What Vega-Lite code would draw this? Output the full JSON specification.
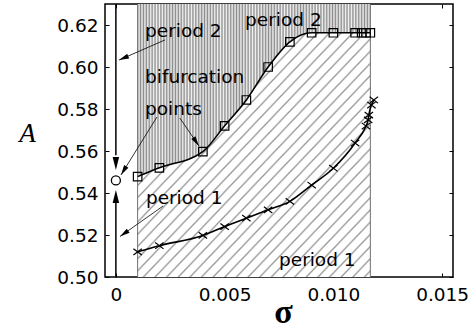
{
"$schema": "https://vega.github.io/schema/vega-lite/v6.json",
"width": 348, "height": 273,
"autosize": {"type": "none"},
"padding": {"left": 105, "top": 4, "right": 23, "bottom": 51},
"background": "white",
"config": {
 "view": {"stroke": "black", "strokeWidth": 1.5},
 "axis": {"domain": false, "grid": false, "ticks": true, "tickColor": "black", "tickSize": -4, "tickWidth": 1, "labelFont": "DejaVu Sans", "labelFontSize": 18.5, "labelColor": "black", "labelPadding": 11}
},
"datasets": {
 "sq": [
  {"s": 0.001, "A": 0.5478}, {"s": 0.002, "A": 0.552}, {"s": 0.004, "A": 0.5597}, {"s": 0.005, "A": 0.572},
  {"s": 0.006, "A": 0.5843}, {"s": 0.007, "A": 0.600}, {"s": 0.008, "A": 0.612}, {"s": 0.009, "A": 0.6163},
  {"s": 0.010, "A": 0.6163}, {"s": 0.011, "A": 0.6163}, {"s": 0.0113, "A": 0.6163}, {"s": 0.0115, "A": 0.6163}, {"s": 0.0117, "A": 0.6163}
 ],
 "cr": [
  {"s": 0.001, "A": 0.512}, {"s": 0.002, "A": 0.5149}, {"s": 0.004, "A": 0.5198}, {"s": 0.005, "A": 0.524},
  {"s": 0.006, "A": 0.528}, {"s": 0.007, "A": 0.532}, {"s": 0.008, "A": 0.536}, {"s": 0.009, "A": 0.5438},
  {"s": 0.010, "A": 0.5518}, {"s": 0.011, "A": 0.5638}, {"s": 0.0115, "A": 0.5719}, {"s": 0.0116, "A": 0.5748},
  {"s": 0.01163, "A": 0.5771}, {"s": 0.01175, "A": 0.5819}, {"s": 0.01186, "A": 0.5843}
 ],
 "edges": [{"s": 0.001}, {"s": 0.0117}],
 "vert": [{"s": 0, "A": 0.63, "A2": 0.558}, {"s": 0, "A": 0.5, "A2": 0.536}],
 "vhead": [{"s": 0, "A": 0.551, "dir": "down"}, {"s": 0, "A": 0.5414, "dir": "up"}],
 "circ": [{"s": 0, "A": 0.546}],
 "arrows": [
  {"id": "a1", "s": 0.00226, "A": 0.6129, "s2": 0.000144, "A2": 0.6033},
  {"id": "a2", "s": 0.00189, "A": 0.5762, "s2": 0.000235, "A2": 0.5486},
  {"id": "a3", "s": 0.00294, "A": 0.5757, "s2": 0.00382, "A2": 0.5624},
  {"id": "a4", "s": 0.00217, "A": 0.5338, "s2": 0.00019, "A2": 0.5193}
 ],
 "labels": [
  {"t": "period 2", "s": 0.00134, "A": 0.6143},
  {"t": "bifurcation", "s": 0.00134, "A": 0.5924},
  {"t": "points", "s": 0.00134, "A": 0.5771},
  {"t": "period 1", "s": 0.00138, "A": 0.5348},
  {"t": "period 2", "s": 0.00594, "A": 0.6195},
  {"t": "period 1", "s": 0.0075, "A": 0.5052}
 ]
},
"layer": [
 {
  "data": {"name": "sq"},
  "mark": {"type": "area", "interpolate": "monotone", "fill": {"gradient": "linear", "x1": 0, "y1": 0, "x2": 1, "y2": 1, "stops": [
   {"offset":0,"color":"#fff"},
   {"offset":0.0085,"color":"#fff"},{"offset":0.0125,"color":"#999"},{"offset":0.0165,"color":"#fff"},
   {"offset":0.0335,"color":"#fff"},{"offset":0.0375,"color":"#999"},{"offset":0.0415,"color":"#fff"},
   {"offset":0.0585,"color":"#fff"},{"offset":0.0625,"color":"#999"},{"offset":0.0665,"color":"#fff"},
   {"offset":0.0835,"color":"#fff"},{"offset":0.0875,"color":"#999"},{"offset":0.0915,"color":"#fff"},
   {"offset":0.1085,"color":"#fff"},{"offset":0.1125,"color":"#999"},{"offset":0.1165,"color":"#fff"},
   {"offset":0.1335,"color":"#fff"},{"offset":0.1375,"color":"#999"},{"offset":0.1415,"color":"#fff"},
   {"offset":0.1585,"color":"#fff"},{"offset":0.1625,"color":"#999"},{"offset":0.1665,"color":"#fff"},
   {"offset":0.1835,"color":"#fff"},{"offset":0.1875,"color":"#999"},{"offset":0.1915,"color":"#fff"},
   {"offset":0.2085,"color":"#fff"},{"offset":0.2125,"color":"#999"},{"offset":0.2165,"color":"#fff"},
   {"offset":0.2335,"color":"#fff"},{"offset":0.2375,"color":"#999"},{"offset":0.2415,"color":"#fff"},
   {"offset":0.2585,"color":"#fff"},{"offset":0.2625,"color":"#999"},{"offset":0.2665,"color":"#fff"},
   {"offset":0.2835,"color":"#fff"},{"offset":0.2875,"color":"#999"},{"offset":0.2915,"color":"#fff"},
   {"offset":0.3085,"color":"#fff"},{"offset":0.3125,"color":"#999"},{"offset":0.3165,"color":"#fff"},
   {"offset":0.3335,"color":"#fff"},{"offset":0.3375,"color":"#999"},{"offset":0.3415,"color":"#fff"},
   {"offset":0.3585,"color":"#fff"},{"offset":0.3625,"color":"#999"},{"offset":0.3665,"color":"#fff"},
   {"offset":0.3835,"color":"#fff"},{"offset":0.3875,"color":"#999"},{"offset":0.3915,"color":"#fff"},
   {"offset":0.4085,"color":"#fff"},{"offset":0.4125,"color":"#999"},{"offset":0.4165,"color":"#fff"},
   {"offset":0.4335,"color":"#fff"},{"offset":0.4375,"color":"#999"},{"offset":0.4415,"color":"#fff"},
   {"offset":0.4585,"color":"#fff"},{"offset":0.4625,"color":"#999"},{"offset":0.4665,"color":"#fff"},
   {"offset":0.4835,"color":"#fff"},{"offset":0.4875,"color":"#999"},{"offset":0.4915,"color":"#fff"},
   {"offset":0.5085,"color":"#fff"},{"offset":0.5125,"color":"#999"},{"offset":0.5165,"color":"#fff"},
   {"offset":0.5335,"color":"#fff"},{"offset":0.5375,"color":"#999"},{"offset":0.5415,"color":"#fff"},
   {"offset":0.5585,"color":"#fff"},{"offset":0.5625,"color":"#999"},{"offset":0.5665,"color":"#fff"},
   {"offset":0.5835,"color":"#fff"},{"offset":0.5875,"color":"#999"},{"offset":0.5915,"color":"#fff"},
   {"offset":0.6085,"color":"#fff"},{"offset":0.6125,"color":"#999"},{"offset":0.6165,"color":"#fff"},
   {"offset":0.6335,"color":"#fff"},{"offset":0.6375,"color":"#999"},{"offset":0.6415,"color":"#fff"},
   {"offset":0.6585,"color":"#fff"},{"offset":0.6625,"color":"#999"},{"offset":0.6665,"color":"#fff"},
   {"offset":0.6835,"color":"#fff"},{"offset":0.6875,"color":"#999"},{"offset":0.6915,"color":"#fff"},
   {"offset":0.7085,"color":"#fff"},{"offset":0.7125,"color":"#999"},{"offset":0.7165,"color":"#fff"},
   {"offset":0.7335,"color":"#fff"},{"offset":0.7375,"color":"#999"},{"offset":0.7415,"color":"#fff"},
   {"offset":0.7585,"color":"#fff"},{"offset":0.7625,"color":"#999"},{"offset":0.7665,"color":"#fff"},
   {"offset":0.7835,"color":"#fff"},{"offset":0.7875,"color":"#999"},{"offset":0.7915,"color":"#fff"},
   {"offset":0.8085,"color":"#fff"},{"offset":0.8125,"color":"#999"},{"offset":0.8165,"color":"#fff"},
   {"offset":0.8335,"color":"#fff"},{"offset":0.8375,"color":"#999"},{"offset":0.8415,"color":"#fff"},
   {"offset":0.8585,"color":"#fff"},{"offset":0.8625,"color":"#999"},{"offset":0.8665,"color":"#fff"},
   {"offset":0.8835,"color":"#fff"},{"offset":0.8875,"color":"#999"},{"offset":0.8915,"color":"#fff"},
   {"offset":0.9085,"color":"#fff"},{"offset":0.9125,"color":"#999"},{"offset":0.9165,"color":"#fff"},
   {"offset":0.9335,"color":"#fff"},{"offset":0.9375,"color":"#999"},{"offset":0.9415,"color":"#fff"},
   {"offset":0.9585,"color":"#fff"},{"offset":0.9625,"color":"#999"},{"offset":0.9665,"color":"#fff"},
   {"offset":0.9835,"color":"#fff"},{"offset":0.9875,"color":"#999"},{"offset":0.9915,"color":"#fff"},
   {"offset":1,"color":"#fff"}
  ]}},
  "encoding": {
   "x": {"field": "s", "type": "quantitative", "scale": {"domain": [-0.0005, 0.0155], "nice": false, "zero": false},
    "axis": {"orient": "bottom", "values": [0, 0.005, 0.01, 0.015], "labelExpr": "datum.value == 0 ? '0' : format(datum.value, '.3f')", "labelPadding": 12,
     "title": "σ", "titleFont": "Liberation Serif", "titleFontSize": 34, "titleFontWeight": "bold", "titleColor": "black", "titleX": 178, "titleY": 45, "titleAlign": "center", "titleBaseline": "alphabetic"}},
   "y": {"field": "A", "type": "quantitative", "scale": {"domain": [0.5, 0.63], "nice": false, "zero": false},
    "axis": {"orient": "left", "values": [0.5, 0.52, 0.54, 0.56, 0.58, 0.6, 0.62], "format": ".2f",
     "title": "A", "titleFont": "Liberation Serif", "titleFontStyle": "italic", "titleFontWeight": "normal", "titleFontSize": 27, "titleColor": "black", "titleAngle": 0, "titleX": -78, "titleY": 129, "titleAlign": "center", "titleBaseline": "middle"}},
   "y2": {"datum": 0.5}
  }
 },
 {
  "data": {"name": "sq"},
  "mark": {"type": "area", "interpolate": "monotone", "fill": {"gradient": "linear", "x1": 0, "y1": 0, "x2": 1, "y2": 0, "stops": [
   {"offset":0,"color":"#8c8c8c"},{"offset":0.00625,"color":"#f4f4f4"},{"offset":0.0125,"color":"#8c8c8c"},{"offset":0.01875,"color":"#f4f4f4"},
   {"offset":0.025,"color":"#8c8c8c"},{"offset":0.03125,"color":"#f4f4f4"},{"offset":0.0375,"color":"#8c8c8c"},{"offset":0.04375,"color":"#f4f4f4"},
   {"offset":0.05,"color":"#8c8c8c"},{"offset":0.05625,"color":"#f4f4f4"},{"offset":0.0625,"color":"#8c8c8c"},{"offset":0.06875,"color":"#f4f4f4"},
   {"offset":0.075,"color":"#8c8c8c"},{"offset":0.08125,"color":"#f4f4f4"},{"offset":0.0875,"color":"#8c8c8c"},{"offset":0.09375,"color":"#f4f4f4"},
   {"offset":0.1,"color":"#8c8c8c"},{"offset":0.10625,"color":"#f4f4f4"},{"offset":0.1125,"color":"#8c8c8c"},{"offset":0.11875,"color":"#f4f4f4"},
   {"offset":0.125,"color":"#8c8c8c"},{"offset":0.13125,"color":"#f4f4f4"},{"offset":0.1375,"color":"#8c8c8c"},{"offset":0.14375,"color":"#f4f4f4"},
   {"offset":0.15,"color":"#8c8c8c"},{"offset":0.15625,"color":"#f4f4f4"},{"offset":0.1625,"color":"#8c8c8c"},{"offset":0.16875,"color":"#f4f4f4"},
   {"offset":0.175,"color":"#8c8c8c"},{"offset":0.18125,"color":"#f4f4f4"},{"offset":0.1875,"color":"#8c8c8c"},{"offset":0.19375,"color":"#f4f4f4"},
   {"offset":0.2,"color":"#8c8c8c"},{"offset":0.20625,"color":"#f4f4f4"},{"offset":0.2125,"color":"#8c8c8c"},{"offset":0.21875,"color":"#f4f4f4"},
   {"offset":0.225,"color":"#8c8c8c"},{"offset":0.23125,"color":"#f4f4f4"},{"offset":0.2375,"color":"#8c8c8c"},{"offset":0.24375,"color":"#f4f4f4"},
   {"offset":0.25,"color":"#8c8c8c"},{"offset":0.25625,"color":"#f4f4f4"},{"offset":0.2625,"color":"#8c8c8c"},{"offset":0.26875,"color":"#f4f4f4"},
   {"offset":0.275,"color":"#8c8c8c"},{"offset":0.28125,"color":"#f4f4f4"},{"offset":0.2875,"color":"#8c8c8c"},{"offset":0.29375,"color":"#f4f4f4"},
   {"offset":0.3,"color":"#8c8c8c"},{"offset":0.30625,"color":"#f4f4f4"},{"offset":0.3125,"color":"#8c8c8c"},{"offset":0.31875,"color":"#f4f4f4"},
   {"offset":0.325,"color":"#8c8c8c"},{"offset":0.33125,"color":"#f4f4f4"},{"offset":0.3375,"color":"#8c8c8c"},{"offset":0.34375,"color":"#f4f4f4"},
   {"offset":0.35,"color":"#8c8c8c"},{"offset":0.35625,"color":"#f4f4f4"},{"offset":0.3625,"color":"#8c8c8c"},{"offset":0.36875,"color":"#f4f4f4"},
   {"offset":0.375,"color":"#8c8c8c"},{"offset":0.38125,"color":"#f4f4f4"},{"offset":0.3875,"color":"#8c8c8c"},{"offset":0.39375,"color":"#f4f4f4"},
   {"offset":0.4,"color":"#8c8c8c"},{"offset":0.40625,"color":"#f4f4f4"},{"offset":0.4125,"color":"#8c8c8c"},{"offset":0.41875,"color":"#f4f4f4"},
   {"offset":0.425,"color":"#8c8c8c"},{"offset":0.43125,"color":"#f4f4f4"},{"offset":0.4375,"color":"#8c8c8c"},{"offset":0.44375,"color":"#f4f4f4"},
   {"offset":0.45,"color":"#8c8c8c"},{"offset":0.45625,"color":"#f4f4f4"},{"offset":0.4625,"color":"#8c8c8c"},{"offset":0.46875,"color":"#f4f4f4"},
   {"offset":0.475,"color":"#8c8c8c"},{"offset":0.48125,"color":"#f4f4f4"},{"offset":0.4875,"color":"#8c8c8c"},{"offset":0.49375,"color":"#f4f4f4"},
   {"offset":0.5,"color":"#8c8c8c"},{"offset":0.50625,"color":"#f4f4f4"},{"offset":0.5125,"color":"#8c8c8c"},{"offset":0.51875,"color":"#f4f4f4"},
   {"offset":0.525,"color":"#8c8c8c"},{"offset":0.53125,"color":"#f4f4f4"},{"offset":0.5375,"color":"#8c8c8c"},{"offset":0.54375,"color":"#f4f4f4"},
   {"offset":0.55,"color":"#8c8c8c"},{"offset":0.55625,"color":"#f4f4f4"},{"offset":0.5625,"color":"#8c8c8c"},{"offset":0.56875,"color":"#f4f4f4"},
   {"offset":0.575,"color":"#8c8c8c"},{"offset":0.58125,"color":"#f4f4f4"},{"offset":0.5875,"color":"#8c8c8c"},{"offset":0.59375,"color":"#f4f4f4"},
   {"offset":0.6,"color":"#8c8c8c"},{"offset":0.60625,"color":"#f4f4f4"},{"offset":0.6125,"color":"#8c8c8c"},{"offset":0.61875,"color":"#f4f4f4"},
   {"offset":0.625,"color":"#8c8c8c"},{"offset":0.63125,"color":"#f4f4f4"},{"offset":0.6375,"color":"#8c8c8c"},{"offset":0.64375,"color":"#f4f4f4"},
   {"offset":0.65,"color":"#8c8c8c"},{"offset":0.65625,"color":"#f4f4f4"},{"offset":0.6625,"color":"#8c8c8c"},{"offset":0.66875,"color":"#f4f4f4"},
   {"offset":0.675,"color":"#8c8c8c"},{"offset":0.68125,"color":"#f4f4f4"},{"offset":0.6875,"color":"#8c8c8c"},{"offset":0.69375,"color":"#f4f4f4"},
   {"offset":0.7,"color":"#8c8c8c"},{"offset":0.70625,"color":"#f4f4f4"},{"offset":0.7125,"color":"#8c8c8c"},{"offset":0.71875,"color":"#f4f4f4"},
   {"offset":0.725,"color":"#8c8c8c"},{"offset":0.73125,"color":"#f4f4f4"},{"offset":0.7375,"color":"#8c8c8c"},{"offset":0.74375,"color":"#f4f4f4"},
   {"offset":0.75,"color":"#8c8c8c"},{"offset":0.75625,"color":"#f4f4f4"},{"offset":0.7625,"color":"#8c8c8c"},{"offset":0.76875,"color":"#f4f4f4"},
   {"offset":0.775,"color":"#8c8c8c"},{"offset":0.78125,"color":"#f4f4f4"},{"offset":0.7875,"color":"#8c8c8c"},{"offset":0.79375,"color":"#f4f4f4"},
   {"offset":0.8,"color":"#8c8c8c"},{"offset":0.80625,"color":"#f4f4f4"},{"offset":0.8125,"color":"#8c8c8c"},{"offset":0.81875,"color":"#f4f4f4"},
   {"offset":0.825,"color":"#8c8c8c"},{"offset":0.83125,"color":"#f4f4f4"},{"offset":0.8375,"color":"#8c8c8c"},{"offset":0.84375,"color":"#f4f4f4"},
   {"offset":0.85,"color":"#8c8c8c"},{"offset":0.85625,"color":"#f4f4f4"},{"offset":0.8625,"color":"#8c8c8c"},{"offset":0.86875,"color":"#f4f4f4"},
   {"offset":0.875,"color":"#8c8c8c"},{"offset":0.88125,"color":"#f4f4f4"},{"offset":0.8875,"color":"#8c8c8c"},{"offset":0.89375,"color":"#f4f4f4"},
   {"offset":0.9,"color":"#8c8c8c"},{"offset":0.90625,"color":"#f4f4f4"},{"offset":0.9125,"color":"#8c8c8c"},{"offset":0.91875,"color":"#f4f4f4"},
   {"offset":0.925,"color":"#8c8c8c"},{"offset":0.93125,"color":"#f4f4f4"},{"offset":0.9375,"color":"#8c8c8c"},{"offset":0.94375,"color":"#f4f4f4"},
   {"offset":0.95,"color":"#8c8c8c"},{"offset":0.95625,"color":"#f4f4f4"},{"offset":0.9625,"color":"#8c8c8c"},{"offset":0.96875,"color":"#f4f4f4"},
   {"offset":0.975,"color":"#8c8c8c"},{"offset":0.98125,"color":"#f4f4f4"},{"offset":0.9875,"color":"#8c8c8c"},{"offset":0.99375,"color":"#f4f4f4"},
   {"offset":1,"color":"#8c8c8c"}
  ]}},
  "encoding": {
   "x": {"field": "s", "type": "quantitative", "axis": null},
   "y": {"field": "A", "type": "quantitative", "axis": null},
   "y2": {"datum": 0.63}
  }
 },
 {
  "data": {"name": "edges"},
  "mark": {"type": "rule", "color": "#6e6e6e", "strokeWidth": 1},
  "encoding": {
   "x": {"field": "s", "type": "quantitative", "axis": null},
   "y": {"datum": 0.5, "type": "quantitative", "axis": null},
   "y2": {"datum": 0.63}
  }
 },
 {
  "data": {"name": "sq"},
  "mark": {"type": "line", "interpolate": "monotone", "color": "black", "strokeWidth": 1.6},
  "encoding": {
   "x": {"field": "s", "type": "quantitative", "axis": null},
   "y": {"field": "A", "type": "quantitative", "axis": null}
  }
 },
 {
  "data": {"name": "sq"},
  "mark": {"type": "point", "shape": "square", "size": 72, "filled": false, "stroke": "black", "strokeWidth": 1.2, "opacity": 1},
  "encoding": {
   "x": {"field": "s", "type": "quantitative", "axis": null},
   "y": {"field": "A", "type": "quantitative", "axis": null}
  }
 },
 {
  "data": {"name": "cr"},
  "mark": {"type": "line", "interpolate": "monotone", "color": "black", "strokeWidth": 1.6},
  "encoding": {
   "x": {"field": "s", "type": "quantitative", "axis": null},
   "y": {"field": "A", "type": "quantitative", "axis": null}
  }
 },
 {
  "data": {"name": "cr"},
  "mark": {"type": "point", "shape": "M-1.2,-0.9L1.2,0.9M-1.2,0.9L1.2,-0.9", "size": 49, "filled": false, "stroke": "black", "strokeWidth": 1.2, "opacity": 1},
  "encoding": {
   "x": {"field": "s", "type": "quantitative", "axis": null},
   "y": {"field": "A", "type": "quantitative", "axis": null}
  }
 },
 {
  "data": {"name": "vert"},
  "mark": {"type": "rule", "color": "black", "strokeWidth": 1.5},
  "encoding": {
   "x": {"field": "s", "type": "quantitative", "axis": null},
   "y": {"field": "A", "type": "quantitative", "axis": null},
   "y2": {"field": "A2"}
  }
 },
 {
  "data": {"name": "vhead"},
  "transform": [{"filter": "datum.dir == 'down'"}],
  "mark": {"type": "point", "shape": "M0,0L-0.5,2L0.5,2Z", "size": 169, "filled": true, "color": "black", "strokeWidth": 0, "opacity": 1, "angle": 180},
  "encoding": {
   "x": {"field": "s", "type": "quantitative", "axis": null},
   "y": {"field": "A", "type": "quantitative", "axis": null}
  }
 },
 {
  "data": {"name": "vhead"},
  "transform": [{"filter": "datum.dir == 'up'"}],
  "mark": {"type": "point", "shape": "M0,0L-0.5,2L0.5,2Z", "size": 169, "filled": true, "color": "black", "strokeWidth": 0, "opacity": 1, "angle": 0},
  "encoding": {
   "x": {"field": "s", "type": "quantitative", "axis": null},
   "y": {"field": "A", "type": "quantitative", "axis": null}
  }
 },
 {
  "data": {"name": "circ"},
  "mark": {"type": "point", "shape": "circle", "size": 81, "filled": true, "fill": "white", "stroke": "black", "strokeWidth": 1.3, "opacity": 1},
  "encoding": {
   "x": {"field": "s", "type": "quantitative", "axis": {"orient": "top", "values": [0, 0.005, 0.01, 0.015], "labels": false, "title": null}},
   "y": {"field": "A", "type": "quantitative", "axis": {"orient": "right", "values": [0.5, 0.52, 0.54, 0.56, 0.58, 0.6, 0.62], "labels": false, "title": null}}
  }
 },
 {
  "data": {"name": "arrows"},
  "mark": {"type": "rule", "color": "black", "strokeWidth": 0.8},
  "encoding": {
   "x": {"field": "s", "type": "quantitative", "axis": null},
   "y": {"field": "A", "type": "quantitative", "axis": null},
   "x2": {"field": "s2"},
   "y2": {"field": "A2"}
  }
 },
 {
  "data": {"name": "arrows"},
  "transform": [{"filter": "datum.id == 'a1'"}],
  "mark": {"type": "point", "shape": "M0,0L-0.5,2L0.5,2Z", "size": 100, "filled": true, "color": "black", "strokeWidth": 0, "opacity": 1, "angle": 246.5},
  "encoding": {
   "x": {"field": "s2", "type": "quantitative", "axis": null},
   "y": {"field": "A2", "type": "quantitative", "axis": null}
  }
 },
 {
  "data": {"name": "arrows"},
  "transform": [{"filter": "datum.id == 'a2'"}],
  "mark": {"type": "point", "shape": "M0,0L-0.5,2L0.5,2Z", "size": 100, "filled": true, "color": "black", "strokeWidth": 0, "opacity": 1, "angle": 211.8},
  "encoding": {
   "x": {"field": "s2", "type": "quantitative", "axis": null},
   "y": {"field": "A2", "type": "quantitative", "axis": null}
  }
 },
 {
  "data": {"name": "arrows"},
  "transform": [{"filter": "datum.id == 'a3'"}],
  "mark": {"type": "point", "shape": "M0,0L-0.5,2L0.5,2Z", "size": 100, "filled": true, "color": "black", "strokeWidth": 0, "opacity": 1, "angle": 145.8},
  "encoding": {
   "x": {"field": "s2", "type": "quantitative", "axis": null},
   "y": {"field": "A2", "type": "quantitative", "axis": null}
  }
 },
 {
  "data": {"name": "arrows"},
  "transform": [{"filter": "datum.id == 'a4'"}],
  "mark": {"type": "point", "shape": "M0,0L-0.5,2L0.5,2Z", "size": 100, "filled": true, "color": "black", "strokeWidth": 0, "opacity": 1, "angle": 234.6},
  "encoding": {
   "x": {"field": "s2", "type": "quantitative", "axis": null},
   "y": {"field": "A2", "type": "quantitative", "axis": null}
  }
 },
 {
  "data": {"name": "labels"},
  "mark": {"type": "text", "align": "left", "baseline": "alphabetic", "font": "DejaVu Sans", "fontSize": 18.5, "color": "black"},
  "encoding": {
   "x": {"field": "s", "type": "quantitative", "axis": null},
   "y": {"field": "A", "type": "quantitative", "axis": null},
   "text": {"field": "t"}
  }
 }
]
}
